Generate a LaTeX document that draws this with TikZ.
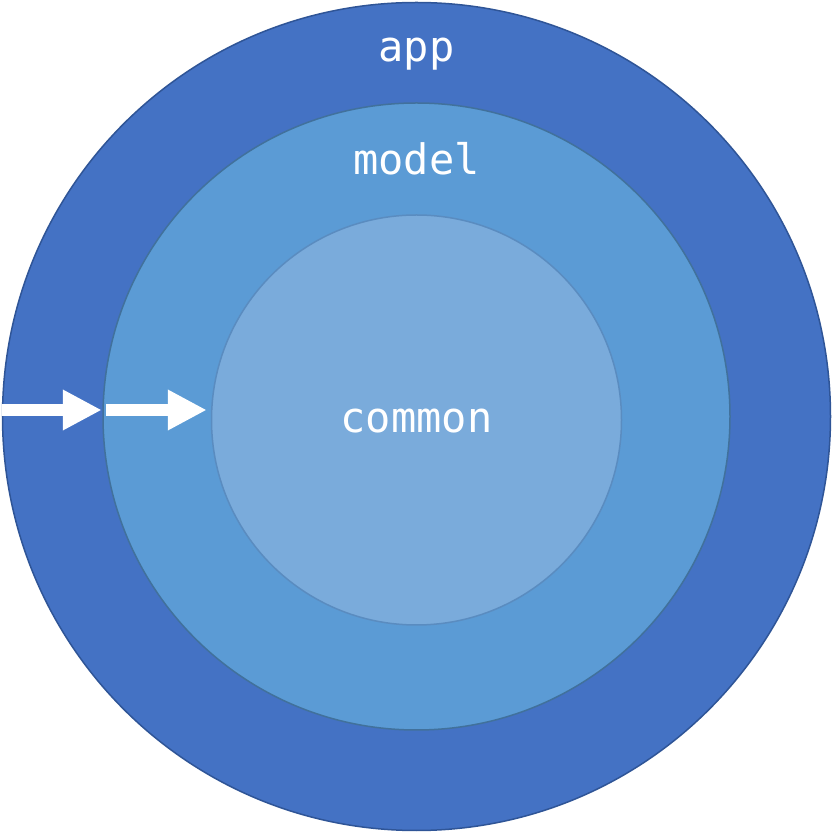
\documentclass[tikz,border=0pt]{standalone}
\usepackage{fontspec}
\setmonofont{DejaVu Sans Mono}
\usetikzlibrary{arrows.meta,positioning,calc}
\definecolor{appblue}{HTML}{4472C4}
\definecolor{appline}{HTML}{2F5597}
\definecolor{modelblue}{HTML}{5B9BD5}
\definecolor{modelline}{HTML}{41719C}
\definecolor{commonblue}{HTML}{7AABDB}
\definecolor{commonline}{HTML}{5A8CC0}

\begin{document}
\begin{tikzpicture}[
    x=1pt, y=1pt,
    ring/.style={circle, inner sep=0pt, line width=1.5pt},
    lbl/.style={anchor=base, text=white, font=\ttfamily\fontsize{42}{50}\selectfont},
    arr/.style={white, line width=12pt, -{Triangle[length=39pt, width=38pt]}}
]
\useasboundingbox (0,0) rectangle (833,833);
\node[ring, fill=appblue, draw=appline, minimum size=828pt] (app) at (416.5,416.5) {};
\node[ring, fill=modelblue, draw=modelline, minimum size=627pt] (model) at (416.5,416.5) {};
\node[ring, fill=commonblue, draw=commonline, minimum size=410pt] (common) at (416.5,413) {};

\node[lbl] (applbl) at (416.5,771) {app};
\node[lbl] (modellbl) at (416.5,658) {model};
\node[lbl] (commonlbl) at (416.5,400) {common};

% arrows pointing inwards
\draw[arr] ($(app.west)+(0.5,6.5)$) -- ($(model.west)+(-0.5,6.5)$);
\draw[arr] ($(model.west)+(4,6.5)$) -- ($(common.west)+(-4,10)$);
\end{tikzpicture}
\end{document}
